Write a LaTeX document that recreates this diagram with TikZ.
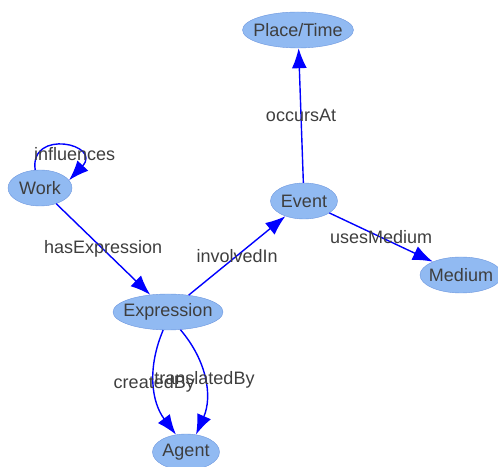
\documentclass[tikz,border=0pt]{standalone}
\usepackage{fontspec}
\setmainfont{Liberation Sans}
\usetikzlibrary{arrows.meta,shapes.geometric,positioning}
\definecolor{entityfill}{RGB}{145,186,242}
\definecolor{entityline}{RGB}{108,150,222}
\definecolor{labelgray}{RGB}{62,62,62}
\tikzset{>={Latex[length=20pt,width=15pt]},
  entity/.style={ellipse, draw=entityline, fill=entityfill, text=labelgray,
    inner sep=-20pt, minimum height=36pt, font=\fontsize{18}{21}\selectfont},
  relation/.style={->, draw=blue, line width=1.4pt},
  labeled/.style={text=labelgray, inner sep=0pt, font=\fontsize{18}{21}\selectfont}}

\begin{document}
\begin{tikzpicture}[x=1pt,y=1pt]
  \useasboundingbox (0,0) rectangle (498,466);
  % the entities
  \node[entity, minimum width=111pt] (place)      at (298,436) {Place/Time};
  \node[entity, minimum width=64pt]  (work)       at (40,278)  {Work};
  \node[entity, minimum width=67pt]  (event)      at (304,265) {Event};
  \node[entity, minimum width=82pt]  (medium)     at (461,191) {Medium};
  \node[entity, minimum width=110pt] (expression) at (168,154) {Expression};
  \node[entity, minimum width=67pt]  (agent)      at (186,14)  {Agent};
  % the relations
  \draw[relation] (work.105) .. controls +(-6,42) and +(34,36) ..
    node[labeled, xshift=12pt, yshift=-8pt] {influences} (work.15);
  \draw[relation] (work) -- node[labeled] {hasExpression} (expression);
  \draw[relation] (expression) -- node[labeled] {involvedIn} (event);
  \draw[relation] (event) -- node[labeled] {occursAt} (place);
  \draw[relation] (event) -- node[labeled] {usesMedium} (medium);
  \draw[relation] (expression.255) to[bend right=30]
    node[labeled] {createdBy} (agent.120);
  \draw[relation] (expression.305) to[bend left=32]
    node[labeled] {translatedBy} (agent.60);
\end{tikzpicture}
\end{document}
